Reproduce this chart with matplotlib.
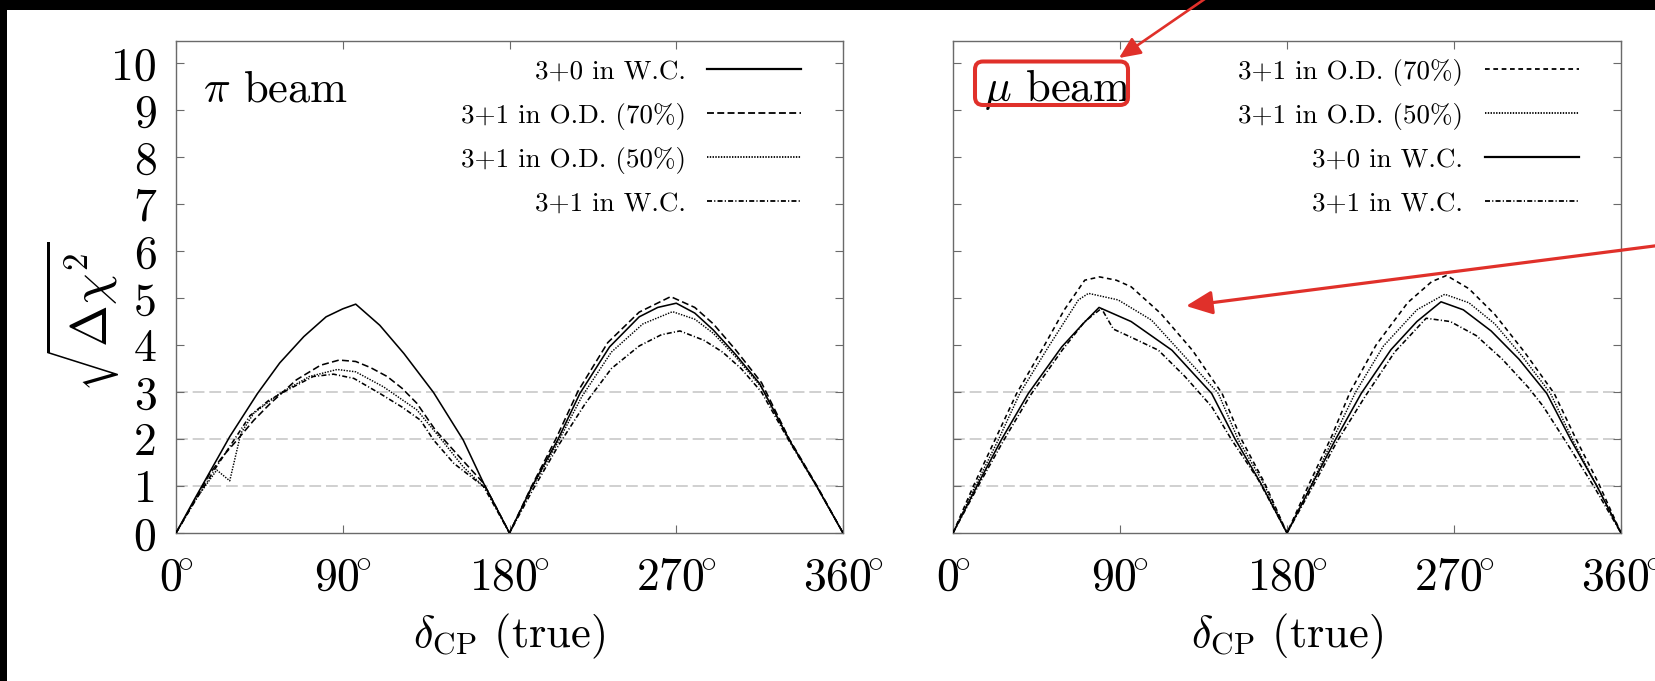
import matplotlib
matplotlib.use("Agg")
import matplotlib.pyplot as plt
from matplotlib.patches import Rectangle, FancyBboxPatch, FancyArrowPatch
from matplotlib.transforms import IdentityTransform

plt.rcParams['font.family'] = 'serif'
plt.rcParams['font.serif'] = ['cmr10', 'DejaVu Serif']
plt.rcParams['mathtext.fontset'] = 'cm'
plt.rcParams['axes.formatter.use_mathtext'] = True
plt.rcParams['lines.scale_dashes'] = False

# ---------------- data ----------------
xticks_deg = [0, 90, 180, 270, 360]
xtick_labels = [r'$0\!^{\circ}$', r'$90\!^{\circ}$', r'$180\!^{\circ}$', r'$270\!^{\circ}$', r'$360\!^{\circ}$']
yticks = list(range(0, 11))
ref_levels = [1, 2, 3]

labels_wc30 = "3+0 in W.C."
labels_od70 = "3+1 in O.D. (70%)"
labels_od50 = "3+1 in O.D. (50%)"
labels_wc31 = "3+1 in W.C."

# pi beam
pi_wc30_x = [0, 10, 20, 29, 44, 56, 69, 81, 90, 97, 110, 123, 139, 155, 166, 180,
             192, 206, 218, 234, 250, 260, 270, 280, 290, 302, 315, 331, 346, 360]
pi_wc30_y = [0, 0.72, 1.42, 2.05, 2.97, 3.62, 4.18, 4.6, 4.77, 4.87, 4.42, 3.82, 2.99, 1.98, 1.06, 0,
             0.98, 1.98, 2.97, 3.96, 4.6, 4.8, 4.89, 4.68, 4.32, 3.8, 3.18, 1.98, 0.98, 0]

pi_od70_x = [0, 10, 18, 25, 33, 42, 51, 65, 78, 88, 97, 105, 114, 122, 130, 140, 153, 166, 180,
             192, 205, 217, 233, 250, 267, 280, 290, 302, 316, 331, 346, 360]
pi_od70_y = [0, 0.68, 1.25, 1.62, 1.98, 2.4, 2.76, 3.26, 3.57, 3.68, 3.65, 3.52, 3.33, 3.08, 2.76, 2.19, 1.62, 1.06, 0,
             1.0, 2.0, 3.02, 4.05, 4.7, 5.03, 4.8, 4.45, 3.9, 3.2, 2.0, 1.0, 0]

pi_od50_x = [0, 10, 22, 29, 35, 42, 56, 72, 87, 97, 112, 130, 142, 155, 168, 180,
             192, 206, 219, 235, 252, 268, 280, 290, 302, 316, 331, 346, 360]
pi_od50_y = [0, 0.68, 1.34, 1.11, 2.12, 2.55, 2.97, 3.33, 3.48, 3.43, 3.11, 2.62, 2.05, 1.41, 0.91, 0,
             0.95, 1.92, 2.9, 3.85, 4.45, 4.71, 4.55, 4.25, 3.75, 3.1, 1.98, 0.98, 0]

pi_wc31_x = [0, 10, 20, 30, 40, 50, 60, 74, 85, 96, 110, 122, 132, 139, 150, 166, 180,
             193, 207, 221, 235, 250, 262, 272, 285, 295, 305, 316, 331, 346, 360]
pi_wc31_y = [0, 0.66, 1.3, 1.9, 2.5, 2.82, 3.04, 3.33, 3.38, 3.29, 2.97, 2.68, 2.40, 1.98, 1.48, 0.99, 0,
             0.95, 1.9, 2.76, 3.5, 3.98, 4.22, 4.30, 4.1, 3.85, 3.5, 3.0, 1.95, 0.98, 0]

# mu beam
mu_wc30_x = [0, 13.7, 26, 40.6, 58.6, 70, 78.7, 96, 118, 139.4, 152, 166, 180,
             193, 206, 220, 236, 250, 263, 275, 290, 305, 320, 333, 347, 360]
mu_wc30_y = [0, 1.06, 1.98, 2.97, 3.96, 4.45, 4.80, 4.5, 3.89, 2.97, 2.0, 1.05, 0,
             1.0, 1.98, 2.97, 3.9, 4.5, 4.92, 4.75, 4.3, 3.7, 2.97, 1.98, 1.0, 0]

mu_od70_x = [0, 11, 22.6, 34.3, 47.8, 60, 71, 79, 88, 96, 112, 129, 145, 155.6, 168, 180,
             192, 204, 214, 228, 245, 258, 266, 278, 292, 308, 324, 336, 348, 360]
mu_od70_y = [0, 1.0, 1.98, 2.97, 3.89, 4.75, 5.38, 5.45, 5.38, 5.24, 4.67, 3.89, 2.97, 1.98, 1.06, 0,
             1.05, 2.05, 3.0, 4.0, 4.9, 5.35, 5.48, 5.2, 4.65, 3.85, 2.97, 1.98, 1.05, 0]

mu_od50_x = [0, 12, 24.4, 36, 51.4, 67.6, 73, 89, 107, 125, 143, 153.8, 167.3, 180,
             193, 205, 217, 232, 250, 265, 278, 292, 307, 322, 334, 347, 360]
mu_od50_y = [0, 1.0, 1.98, 2.97, 3.96, 4.96, 5.10, 4.96, 4.53, 3.75, 2.97, 1.98, 1.06, 0,
             1.02, 2.02, 3.0, 3.98, 4.75, 5.08, 4.9, 4.45, 3.75, 2.97, 1.98, 1.0, 0]

mu_wc31_x = [0, 14, 27, 41.5, 59, 71, 80, 86.4, 96.3, 110.7, 125, 139.4, 150.2, 164.6, 180,
             194, 207, 222, 238, 255, 268, 282, 296, 310, 318, 331, 346, 360]
mu_wc31_y = [0, 1.03, 1.95, 2.92, 3.9, 4.5, 4.78, 4.34, 4.16, 3.89, 3.33, 2.69, 1.98, 1.13, 0,
             1.0, 1.95, 2.9, 3.85, 4.57, 4.5, 4.2, 3.7, 3.1, 2.7, 1.9, 0.95, 0]

# ---------------- figure ----------------
W, H = 1656, 681
fig = plt.figure(figsize=(W / 100, H / 100), dpi=100)
fig.patch.set_facecolor('white')

ax_pos = [[176 / W, 148 / H, 667 / W, 492 / H],
          [953 / W, 148 / H, 668 / W, 492 / H]]

sty_solid = dict(color='black', lw=1.15, ls='-')
sty_wc31 = dict(color='black', lw=1.15, ls=(0, (3.6, 1.6, 0.8, 1.6)))
sty_od50 = dict(color='black', lw=1.05, ls=(0, (1.0, 1.0)))
sty_od70_pi = dict(color='black', lw=1.15, ls=(0, (5.0, 2.4)))
sty_od70_mu = dict(color='black', lw=1.15, ls=(0, (3.4, 2.6)))

panels = [
    dict(title=r'$\pi$ beam', tx=0.040,
         series=[(pi_wc30_x, pi_wc30_y, labels_wc30, sty_solid),
                 (pi_od70_x, pi_od70_y, labels_od70, sty_od70_pi),
                 (pi_od50_x, pi_od50_y, labels_od50, sty_od50),
                 (pi_wc31_x, pi_wc31_y, labels_wc31, sty_wc31)]),
    dict(title=r'$\mu$ beam', tx=0.046,
         series=[(mu_od70_x, mu_od70_y, labels_od70, sty_od70_mu),
                 (mu_od50_x, mu_od50_y, labels_od50, sty_od50),
                 (mu_wc30_x, mu_wc30_y, labels_wc30, sty_solid),
                 (mu_wc31_x, mu_wc31_y, labels_wc31, sty_wc31)]),
]

row_y = [0.943, 0.854, 0.764, 0.675]
spine_col = '#6a6a6a'

for i, p in enumerate(panels):
    ax = fig.add_axes(ax_pos[i])
    for lv in ref_levels:
        ax.axhline(lv, color='#c4c4c4', lw=1.1, ls=(0, (8.5, 3.5)), zorder=1)
    for xs, ys, lab, sty in p['series']:
        ax.plot(xs, ys, zorder=3, **sty)
    ax.set_xlim(0, 360)
    ax.set_ylim(0, 10.47)
    ax.set_xticks(xticks_deg)
    ax.set_xticklabels(xtick_labels)
    ax.set_yticks(yticks)
    if i == 0:
        ax.set_yticklabels([str(v) for v in yticks])
        ax.set_ylabel(r'$\sqrt{\Delta\chi^2}$', fontsize=36)
        ax.yaxis.set_label_coords(-0.083, 0.44)
    else:
        ax.set_yticklabels([])
    ax.tick_params(axis='both', which='both', direction='in', length=5.5, width=0.8,
                   color=spine_col, top=True, right=True, labelsize=33)
    ax.tick_params(axis='y', pad=14)
    ax.tick_params(axis='x', pad=17)
    for s in ax.spines.values():
        s.set_color(spine_col)
        s.set_linewidth(1.0)
    ax.set_xlabel(r'$\delta_{\rm CP}$ (true)', fontsize=32, labelpad=10)

    ax.text(p['tx'], 0.878, p['title'], transform=ax.transAxes, fontsize=32,
            ha='left', va='baseline')

    # legend, key on the right of the label
    for (xs, ys, lab, sty), ry in zip(p['series'], row_y):
        ax.text(0.764, ry - 0.02, lab, transform=ax.transAxes, fontsize=19.5,
                ha='right', va='baseline')
        lsty = dict(sty)
        lsty['lw'] = 1.6 if sty['ls'] == '-' else 1.3
        ax.plot([0.796, 0.937], [ry, ry], transform=ax.transAxes, clip_on=False,
                zorder=4, **lsty)

# ---------------- screenshot frame and annotations ----------------
fig.add_artist(Rectangle((0, 1 - 10 / H), 1, 10 / H, transform=fig.transFigure,
                         facecolor='black', edgecolor='none', zorder=10))
fig.add_artist(Rectangle((0, 0), 7 / W, 1, transform=fig.transFigure,
                         facecolor='black', edgecolor='none', zorder=10))

red = '#e0302a'
box = FancyBboxPatch((975, H - 105), 153, 43.5,
                     boxstyle='round,pad=0,rounding_size=8',
                     transform=IdentityTransform(), facecolor='none',
                     edgecolor=red, lw=2.9, zorder=11)
fig.add_artist(box)

arr1 = FancyArrowPatch((1212, H + 6), (1119, H - 58),
                       arrowstyle='-|>,head_length=1.0,head_width=0.45',
                       mutation_scale=13, color=red, lw=1.9, shrinkA=0, shrinkB=0,
                       transform=IdentityTransform(), zorder=12)
arr2 = FancyArrowPatch((1662, H - 245), (1186, H - 306),
                       arrowstyle='-|>,head_length=1.0,head_width=0.45',
                       mutation_scale=16, color=red, lw=2.3, shrinkA=0, shrinkB=0,
                       transform=IdentityTransform(), zorder=12)
fig.add_artist(arr1)
fig.add_artist(arr2)

fig.savefig('out.png', dpi=100, facecolor='white')
